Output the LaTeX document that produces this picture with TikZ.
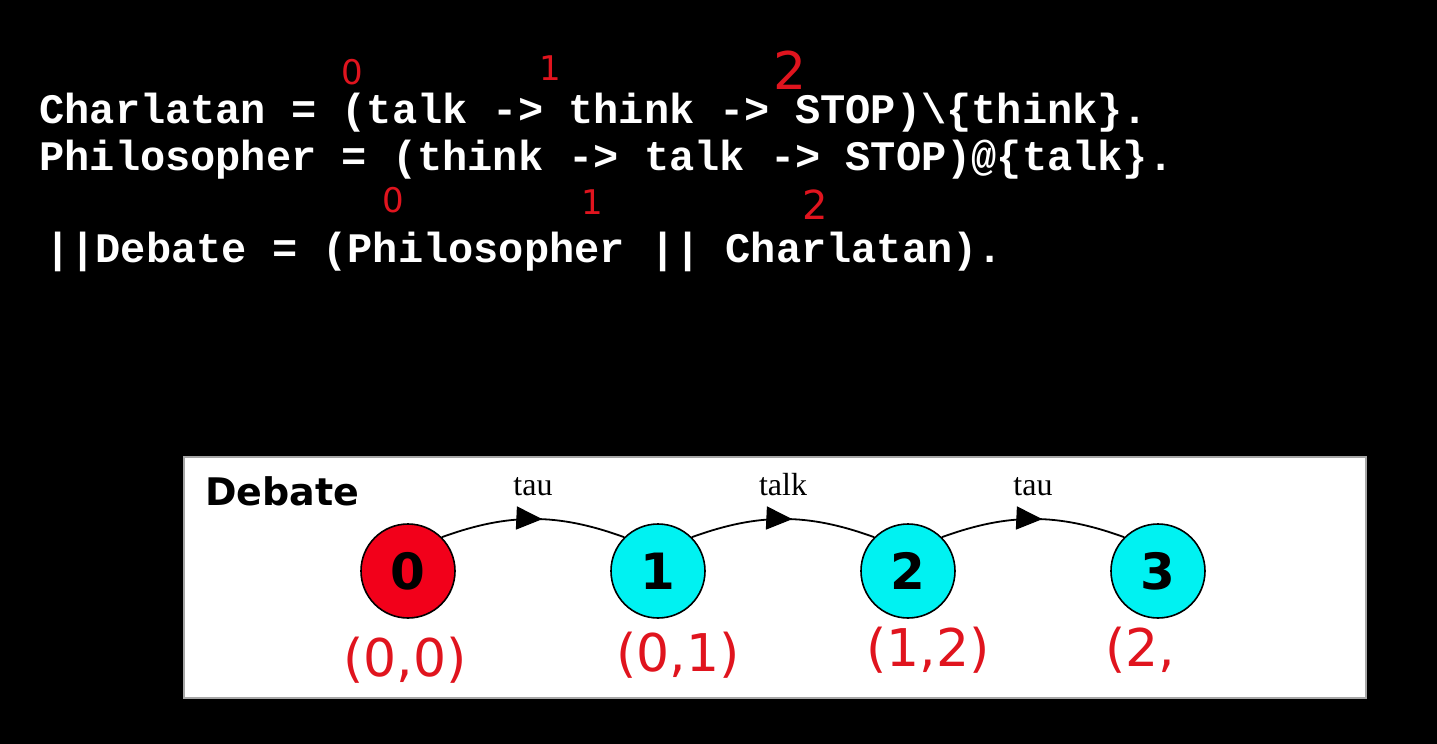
\documentclass[tikz,border=0pt]{standalone}
\usepackage{fontspec}
\setmainfont{Liberation Serif}
\setsansfont{DejaVu Sans}
\setmonofont{Liberation Mono}
\usetikzlibrary{arrows.meta,positioning,decorations.markings}
\definecolor{statered}{HTML}{F2001A}
\definecolor{statecyan}{HTML}{00F2F2}
\definecolor{inkred}{HTML}{E0141E}

\begin{document}
\begin{tikzpicture}[x=0.5pt, y=-0.5pt,
  code/.style={anchor=base west, inner sep=0pt, text=white, font=\ttfamily\bfseries\fontsize{21}{24}\selectfont},
  ink/.style={text=inkred, inner sep=0pt, font=\sffamily\fontsize{26}{28}\selectfont},
  inksmall/.style={text=inkred, inner sep=0pt, font=\sffamily\fontsize{17}{18}\selectfont},
  panel/.style={draw=gray!70, fill=white, line width=0.8pt, anchor=north west, inner sep=0pt},
  state/.style={circle, draw=black, line width=0.8pt, minimum size=47pt, inner sep=0pt, font=\sffamily\bfseries\fontsize{25}{25}\selectfont},
  trans/.style={line width=0.9pt, draw=black, postaction={decorate},
    decoration={markings, mark=at position 0.55 with {\arrow{Triangle[length=13pt,width=11.5pt]}}}},
  act/.style={font=\fontsize{16}{16}\selectfont, above=11pt, inner sep=0pt}
]
  % page and background
  \fill[black] (0,0) rectangle (1437,744);
  \useasboundingbox (0,0) rectangle (1437,744);

  % FSP source
  \node[code] (charlatan) at (39,123) {Charlatan = (talk -> think -> STOP)\textbackslash\{think\}.};
  \node[code] (philosopher) at (39,170) {Philosopher = (think -> talk -> STOP)@\{talk\}.};
  \node[code] (debate) at (45,262) {||Debate = (Philosopher || Charlatan).};

  % hand-written state numbers
  \node[inksmall] (c0) at (352,72) {0};
  \node[inksmall] (c1) at (550,68) {1};
  \node[ink] (c2) at (790,70) {2};
  \node[inksmall] (p0) at (393,200) {0};
  \node[inksmall] (p1) at (592,202) {1};
  \node[ink, font=\sffamily\fontsize{20}{22}\selectfont] (p2) at (815,205) {2};

  % LTS panel
  \node[panel, minimum width=591pt, minimum height=120.5pt] (lts) at (183,456) {};
  \node[anchor=base west, inner sep=0pt, font=\sffamily\bfseries\fontsize{19}{19}\selectfont] (title) at (205,505) {Debate};

  \node[state, fill=statered] (s0) at (408,571) {0};
  \node[state, fill=statecyan] (s1) at (658,571) {1};
  \node[state, fill=statecyan] (s2) at (908,571) {2};
  \node[state, fill=statecyan] (s3) at (1158,571) {3};

  \draw[trans] (s0.45) to[out=20, in=160] node[act] {tau} (s1.135);
  \draw[trans] (s1.45) to[out=20, in=160] node[act] {talk} (s2.135);
  \draw[trans] (s2.45) to[out=20, in=160] node[act] {tau} (s3.135);

  % hand-written state pairs
  \node[ink] (pair0) at (405,660) {(0,0)};
  \node[ink] (pair1) at (678,655) {(0,1)};
  \node[ink] (pair2) at (928,650) {(1,2)};
  \node[ink] (pair3) at (1140,650) {(2,};
\end{tikzpicture}
\end{document}
